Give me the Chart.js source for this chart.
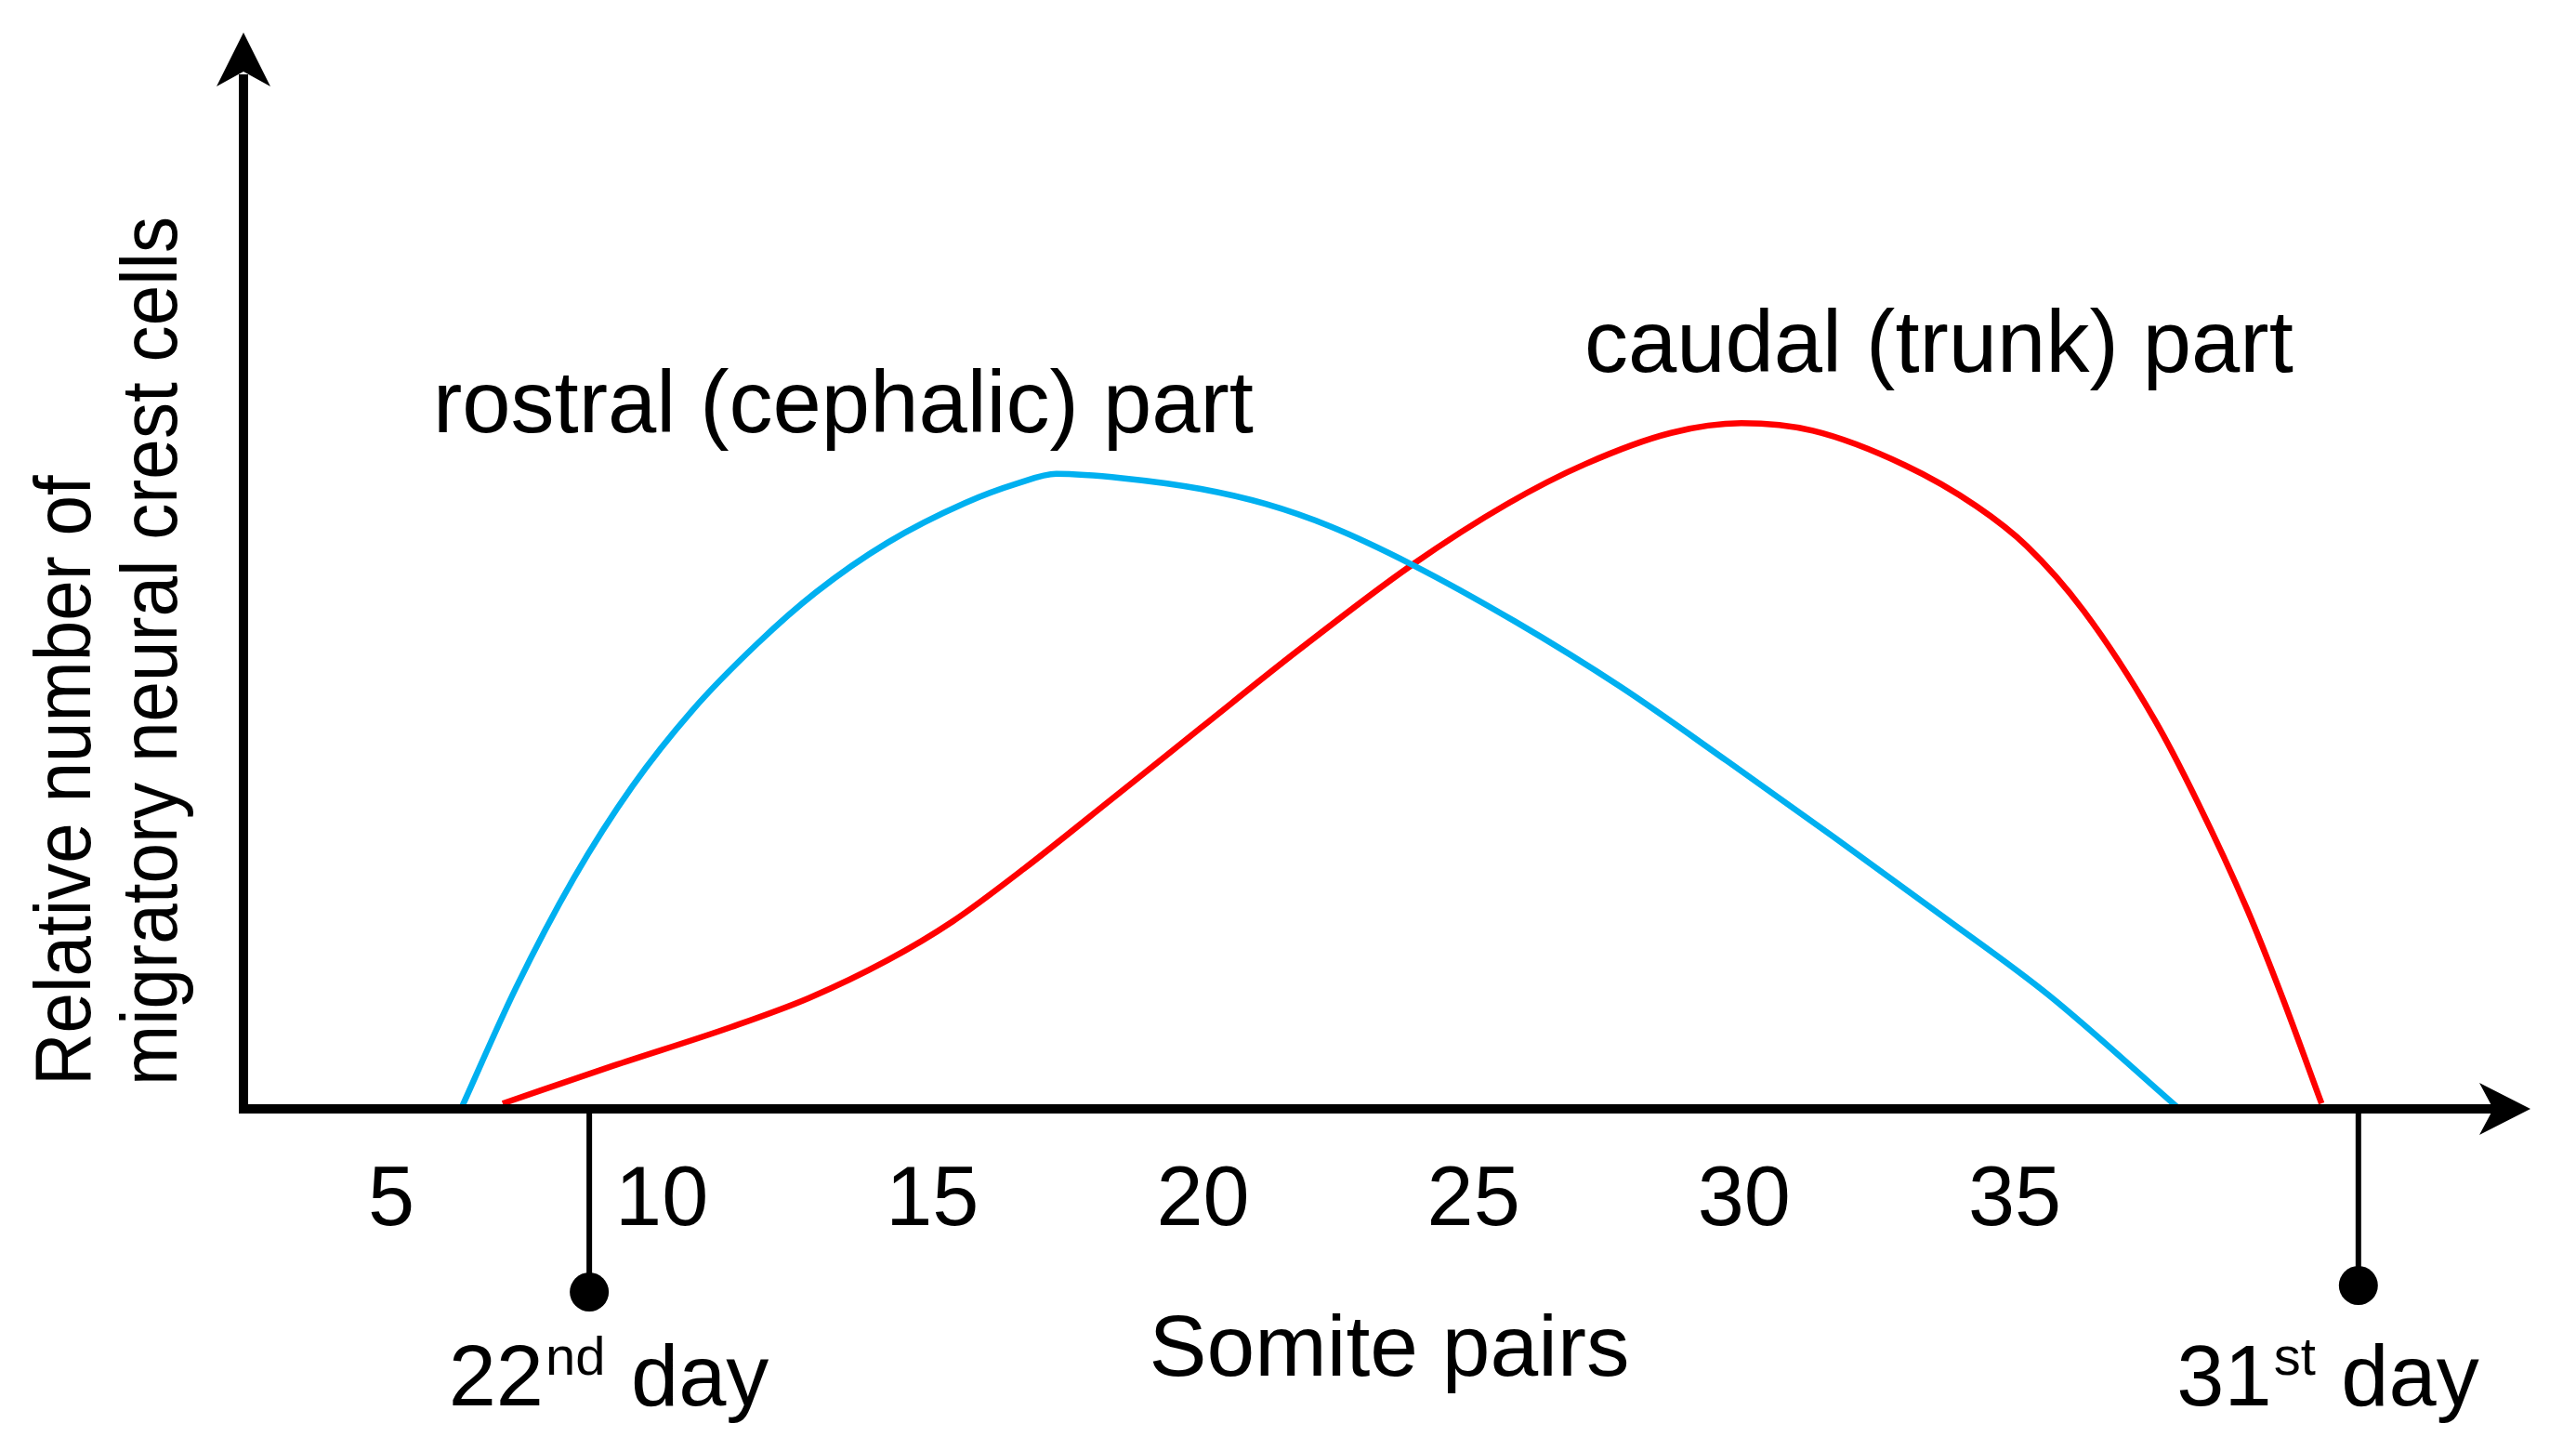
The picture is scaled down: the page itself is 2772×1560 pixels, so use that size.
<!DOCTYPE html>
<html>
<head>
<meta charset="utf-8">
<script src="https://cdn.jsdelivr.net/npm/chart.js@4.4.1/dist/chart.umd.min.js"></script>
<style>
  html, body { margin: 0; padding: 0; background: #fff; }
  #chart { display: block; }
</style>
</head>
<body>
<canvas id="chart" width="2772" height="1560"></canvas>
<script>
// somite pairs on x, relative number of cells on y (0-100, arbitrary)
const xTicks = [5, 10, 15, 20, 25, 30, 35];

const rostralX = [6.29, 7.30, 8.38, 9.46, 10.56, 11.76, 12.85, 14.17, 15.61, 16.57, 17.29, 18.51,
  19.96, 21.16, 22.36, 23.85, 25.76, 27.72, 29.69, 31.67, 33.64, 35.62, 38.04];
const rostralY = [0, 11.2, 21.5, 30.0, 37.0, 43.2, 48.0, 52.6, 56.3, 58.1, 59.0, 58.6,
  57.6, 56.2, 54.1, 50.6, 45.3, 39.2, 32.3, 25.2, 18.0, 10.6, 0];

const caudalX = [7.06, 9.10, 11.28, 12.72, 14.17, 15.37, 16.69, 18.27, 19.96, 21.76, 23.85, 25.62,
  27.06, 28.65, 29.95, 31.27, 32.97, 34.29, 35.22, 36.27, 37.58, 38.37, 39.29, 39.95, 40.67];
const caudalY = [0.5, 4.0, 7.6, 10.3, 13.8, 17.4, 22.3, 28.6, 35.4, 42.6, 50.5, 56.2,
  59.9, 62.8, 63.7, 63.0, 59.8, 56.0, 52.3, 46.3, 36.2, 28.6, 18.6, 10.3, 0.5];

const dayMarks = [8.66, 41.35];
const dayNums = ['22', '31'];
const daySups = ['nd', 'st'];

const toPoints = (xs, ys) => xs.map((x, i) => ({ x: x, y: ys[i] }));
const font = (s) => s + 'px "Liberation Sans", Arial, sans-serif';

const sketch = {
  id: 'sketch',
  afterDatasetsDraw(chart) {
    const ctx = chart.ctx;
    const a = chart.chartArea;
    const xs = chart.scales.x;
    ctx.save();
    ctx.fillStyle = '#000';
    ctx.strokeStyle = '#000';

    // axes
    ctx.lineWidth = 10;
    ctx.lineJoin = 'miter';
    ctx.beginPath();
    ctx.moveTo(a.left, a.top + 45);
    ctx.lineTo(a.left, a.bottom);
    ctx.lineTo(a.right - 40, a.bottom);
    ctx.stroke();

    // arrow heads
    ctx.beginPath();
    ctx.moveTo(a.left, a.top);
    ctx.lineTo(a.left + 29, a.top + 58);
    ctx.lineTo(a.left, a.top + 42);
    ctx.lineTo(a.left - 29, a.top + 58);
    ctx.closePath();
    ctx.fill();
    ctx.beginPath();
    ctx.moveTo(a.right, a.bottom);
    ctx.lineTo(a.right - 55, a.bottom - 28);
    ctx.lineTo(a.right - 40, a.bottom);
    ctx.lineTo(a.right - 55, a.bottom + 28);
    ctx.closePath();
    ctx.fill();

    // day markers
    const dotY = [1390, 1383];
    const labelX = [653, 2503];
    dayMarks.forEach((v, i) => {
      const px = xs.getPixelForValue(v);
      ctx.lineWidth = 6;
      ctx.beginPath();
      ctx.moveTo(px, a.bottom);
      ctx.lineTo(px, dotY[i]);
      ctx.stroke();
      ctx.beginPath();
      ctx.arc(px, dotY[i], 21, 0, Math.PI * 2);
      ctx.fill();

      ctx.textBaseline = 'alphabetic';
      ctx.textAlign = 'left';
      ctx.font = font(92);
      const w1 = ctx.measureText(dayNums[i]).width;
      const w3 = ctx.measureText(' day').width;
      ctx.font = font(58);
      const w2 = ctx.measureText(daySups[i]).width;
      let x0 = labelX[i] - (w1 + w2 + w3) / 2;
      const base = 1512;
      ctx.font = font(92);
      ctx.fillText(dayNums[i], x0, base);
      ctx.font = font(58);
      ctx.fillText(daySups[i], x0 + w1 + 2, base - 33);
      ctx.font = font(92);
      ctx.fillText(' day', x0 + w1 + w2 + 4, base);
    });

    // labels
    ctx.textAlign = 'left';
    ctx.textBaseline = 'alphabetic';
    ctx.font = font(94);
    ctx.fillText('rostral (cephalic) part', 466, 465);
    ctx.fillText('caudal (trunk) part', 1705, 400);
    ctx.font = font(93);
    ctx.textAlign = 'center';
    ctx.fillText('Somite pairs', 1495, 1480);

    // y axis title
    const yLines = ['Relative number of', 'migratory neural crest cells'];
    const yBase = [97, 190];
    yLines.forEach((t, i) => {
      ctx.save();
      ctx.translate(yBase[i], 1168);
      ctx.rotate(-Math.PI / 2);
      ctx.scale(0.91, 1);
      ctx.font = font(86);
      ctx.textAlign = 'left';
      ctx.fillText(t, 0, 0);
      ctx.restore();
    });
    ctx.restore();
  }
};

new Chart(document.getElementById('chart'), {
  type: 'line',
  data: {
    datasets: [{
      label: 'rostral (cephalic) part',
      data: toPoints(rostralX, rostralY),
      borderColor: '#00B0F0',
      borderWidth: 6.5,
      pointRadius: 0,
      cubicInterpolationMode: 'monotone',
      fill: false
    }, {
      label: 'caudal (trunk) part',
      data: toPoints(caudalX, caudalY),
      borderColor: '#FF0000',
      borderWidth: 6.5,
      pointRadius: 0,
      cubicInterpolationMode: 'monotone',
      fill: false
    }]
  },
  options: {
    responsive: false,
    devicePixelRatio: 1,
    animation: false,
    layout: {
      padding: { left: 262, right: 49, top: 35, bottom: 167 }
    },
    plugins: {
      legend: { display: false },
      tooltip: { enabled: false }
    },
    scales: {
      x: {
        type: 'linear',
        min: 2.27,
        max: 44.53,
        afterBuildTicks: (scale) => { scale.ticks = xTicks.map(v => ({ value: v })); },
        grid: { display: false, drawTicks: false },
        border: { display: false },
        ticks: {
          color: '#000',
          padding: 46,
          maxRotation: 0,
          autoSkip: false,
          font: { family: '"Liberation Sans", Arial, sans-serif', size: 90 }
        }
      },
      y: {
        display: false,
        min: 0,
        max: 100
      }
    }
  },
  plugins: [sketch]
});
</script>
</body>
</html>
